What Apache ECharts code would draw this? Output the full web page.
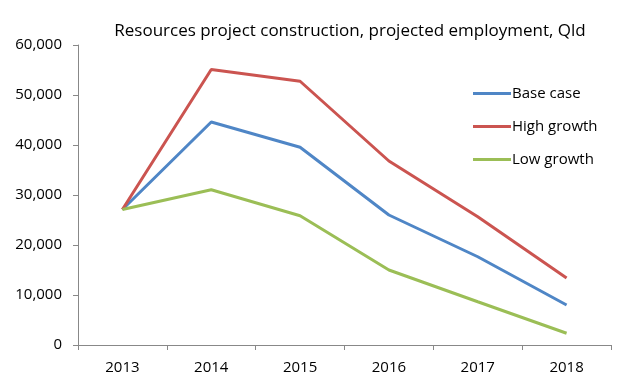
<!DOCTYPE html>
<html><head><meta charset="utf-8">
<script src="https://cdn.jsdelivr.net/npm/echarts@6/dist/echarts.min.js"></script>
<style>html,body{margin:0;padding:0;background:#fff}#c{width:639px;height:390px}</style>
</head><body><div id="c"></div>
<script>
const years = ['2013','2014','2015','2016','2017','2018'];
const baseCase = [27100, 44600, 39550, 26000, 17650, 8000];
const highGrowth = [27100, 55100, 52750, 36800, 25650, 13400];
const lowGrowth = [27100, 31050, 25850, 15000, 8650, 2350];
const chart = echarts.init(document.getElementById('c'));
const font = '"Open Sans", "Noto Sans", sans-serif';
chart.setOption({
  animation: false,
  title: { text: 'Resources project construction, projected employment, Qld', left: 345, top: 18, textAlign: 'center',
    textStyle: { fontFamily: font, fontSize: 17, fontWeight: 'normal', color: '#000' } },
  legend: { orient: 'vertical', left: 468, top: 81, itemWidth: 38, itemHeight: 3, itemGap: 18, icon: 'rect',
    textStyle: { fontFamily: font, fontSize: 15, color: '#000', padding: [0,0,0,-4] },
    data: ['Base case','High growth','Low growth'] },
  grid: { left: 78, right: 28, top: 45, bottom: 45 },
  xAxis: { type: 'category', data: years, boundaryGap: true,
    axisLine: { lineStyle: { color: '#888', width: 1 } },
    axisTick: { show: true, length: 5, lineStyle: { color: '#888' } },
    axisLabel: { fontFamily: font, fontSize: 15, color: '#000', margin: 15 } },
  yAxis: { type: 'value', min: 0, max: 60000, interval: 10000,
    axisLine: { show: true, lineStyle: { color: '#888', width: 1 } },
    axisTick: { show: true, length: 5, lineStyle: { color: '#888' } },
    splitLine: { show: false },
    axisLabel: { fontFamily: font, fontSize: 15, color: '#000', margin: 16,
      formatter: v => v.toLocaleString('en-US') } },
  series: [
    { name: 'Base case', type: 'line', data: baseCase, symbol: 'none', color: '#4F86C6', lineStyle: { width: 3 } },
    { name: 'High growth', type: 'line', data: highGrowth, symbol: 'none', color: '#CB5450', lineStyle: { width: 3 } },
    { name: 'Low growth', type: 'line', data: lowGrowth, symbol: 'none', color: '#9BBE56', lineStyle: { width: 3 } }
  ]
});
</script></body></html>
